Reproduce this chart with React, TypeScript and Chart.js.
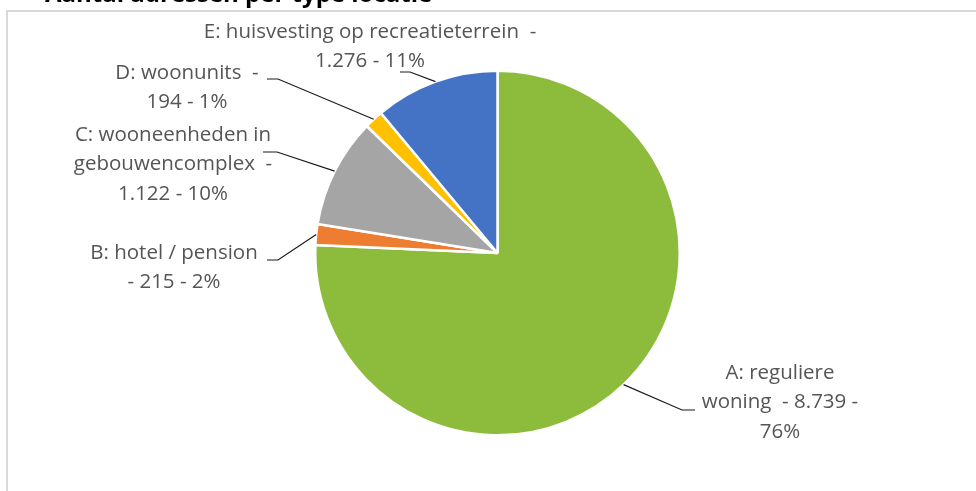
import React, { useEffect, useRef } from "react";
import { Chart, registerables } from "chart.js";

Chart.register(...registerables);

const titleText = "Aantal adressen per type locatie";
const categories = [
  "A: reguliere woning",
  "B: hotel / pension",
  "C: wooneenheden in gebouwencomplex",
  "D: woonunits",
  "E: huisvesting op recreatieterrein",
];
const values = [8739, 215, 1122, 194, 1276];
const valueLabels = ["8.739", "215", "1.122", "194", "1.276"];
const percentLabels = ["76%", "2%", "10%", "1%", "11%"];
const colors = ["#8DBC3C", "#ED7D31", "#A5A5A5", "#FFC000", "#4472C4"];

// label text lines (as wrapped in the original)
const labelLines = [
  ["A: reguliere", "woning  - " + valueLabels[0] + " -", percentLabels[0]],
  ["B: hotel / pension", "- " + valueLabels[1] + " - " + percentLabels[1]],
  ["C: wooneenheden in", "gebouwencomplex  -", valueLabels[2] + " - " + percentLabels[2]],
  ["D: woonunits  -", valueLabels[3] + " - " + percentLabels[3]],
  ["E: huisvesting op recreatieterrein  -", valueLabels[4] + " - " + percentLabels[4]],
];

// layout: label centre x, first-line y, leader horizontal segment [x0, x1, y] (x1 = elbow)
const labelLayout = [
  { cx: 780, y: 373, lead: [695, 682, 410] },
  { cx: 174, y: 253, lead: [267, 278, 260] },
  { cx: 173, y: 135, lead: [263, 277, 152] },
  { cx: 187, y: 73, lead: [267, 278, 79] },
  { cx: 370, y: 32, lead: [400, 410, 72] },
];

const FONT = '"Open Sans", "Noto Sans", sans-serif';

const decorPlugin = {
  id: "decor",
  beforeDraw(chart: any) {
    const ctx = chart.ctx;
    ctx.save();
    ctx.fillStyle = "#ffffff";
    ctx.fillRect(0, 0, chart.width, chart.height);
    // chart frame
    ctx.strokeStyle = "#D9D9D9";
    ctx.lineWidth = 2;
    ctx.beginPath();
    ctx.moveTo(chart.width + 5, 11);
    ctx.lineTo(7, 11);
    ctx.lineTo(7, chart.height + 5);
    ctx.stroke();
    // title (clipped at top as in the reference)
    ctx.fillStyle = "#000000";
    ctx.font = "bold 24px " + FONT;
    ctx.textAlign = "left";
    ctx.textBaseline = "alphabetic";
    ctx.fillText(titleText, 45, 1.5);
    ctx.restore();
  },
  afterDraw(chart: any) {
    const ctx = chart.ctx;
    const meta = chart.getDatasetMeta(0);
    ctx.save();
    meta.data.forEach((arc: any, i: number) => {
      const p = arc.getProps(["x", "y", "startAngle", "endAngle", "outerRadius"], true);
      const mid = (p.startAngle + p.endAngle) / 2;
      const ex = p.x + Math.cos(mid) * p.outerRadius;
      const ey = p.y + Math.sin(mid) * p.outerRadius;
      const L = labelLayout[i];
      ctx.strokeStyle = "#1a1a1a";
      ctx.lineWidth = 1.2;
      ctx.beginPath();
      ctx.moveTo(L.lead[0], L.lead[2]);
      ctx.lineTo(L.lead[1], L.lead[2]);
      ctx.lineTo(ex, ey);
      ctx.stroke();
      ctx.fillStyle = "#555555";
      ctx.font = "20.5px " + FONT;
      ctx.textAlign = "center";
      ctx.textBaseline = "middle";
      labelLines[i].forEach((t, k) => {
        ctx.fillText(t, L.cx, L.y + k * 29.5);
      });
    });
    ctx.restore();
  },
};

export default function App() {
  const ref = useRef<HTMLCanvasElement>(null);
  useEffect(() => {
    if (!ref.current) return;
    const chart = new Chart(ref.current, {
      type: "pie",
      data: {
        labels: categories,
        datasets: [
          {
            data: values,
            backgroundColor: colors,
            borderColor: "#ffffff",
            borderWidth: 2.5,
          },
        ],
      },
      options: {
        animation: false,
        responsive: false,
        layout: { padding: { left: 314, right: 295, top: 69, bottom: 54 } },
        plugins: {
          legend: { display: false },
          tooltip: { enabled: false },
          title: { display: false },
        },
      },
      plugins: [decorPlugin],
    });
    return () => chart.destroy();
  }, []);
  return (
    <div style={{ position: "absolute", left: 0, top: 0, width: 976, height: 491, background: "#fff" }}>
      <canvas ref={ref} width={976} height={491} style={{ width: 976, height: 491 }} />
    </div>
  );
}
